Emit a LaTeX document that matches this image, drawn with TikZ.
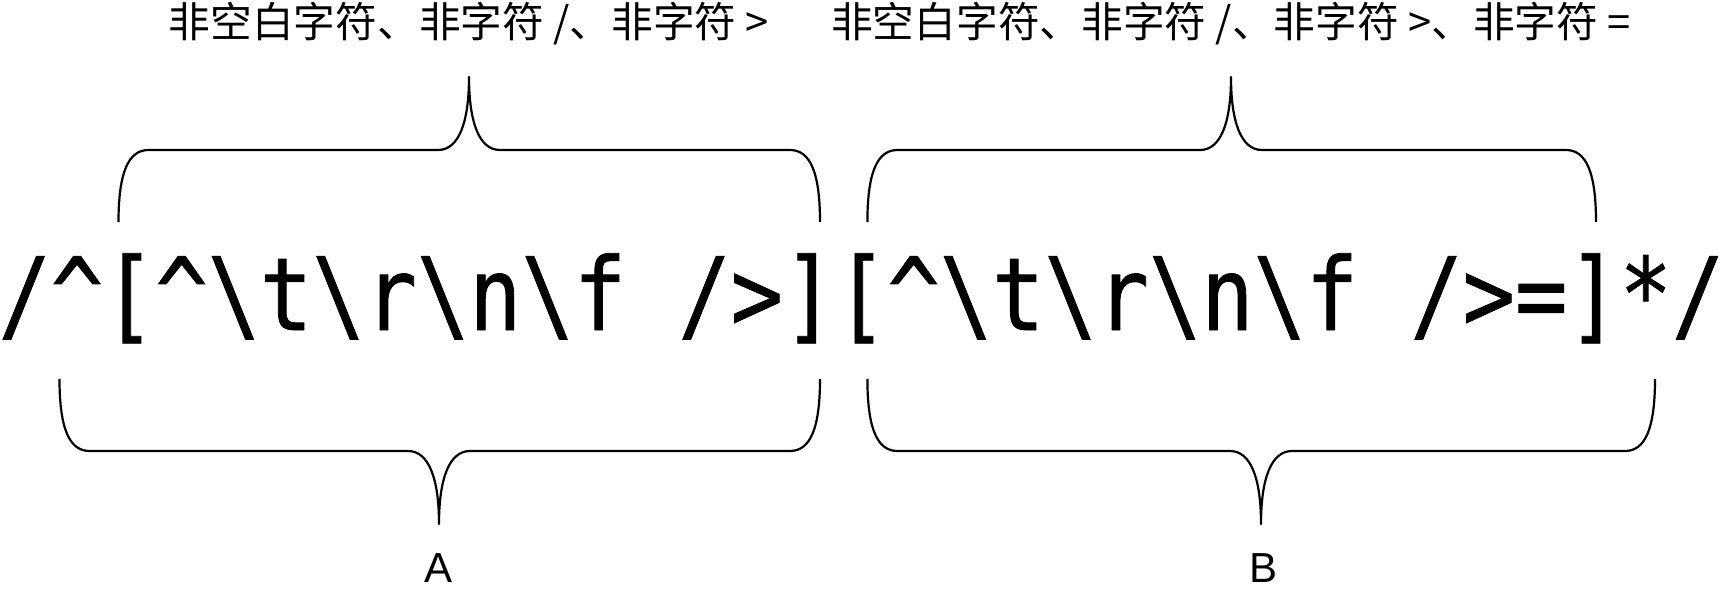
\documentclass[tikz,border=0pt]{standalone}
\usepackage{fontspec}
\usetikzlibrary{positioning,calc}
\setmainfont{Liberation Sans}
\newfontfamily\cjk{Noto Sans CJK SC}
\newfontfamily\rxfont[FakeStretch=0.86,FakeBold=0.8]{DejaVu Sans Mono}
\newcommand{\bsl}{\textbackslash}
\newcommand{\crt}{\textasciicircum}
\tikzset{
  rx/.style={inner sep=0, anchor=base, font=\rxfont\fontsize{101}{110}\selectfont},
  ct/.style={inner sep=0, anchor=base, font=\cjk\fontsize{41.7}{48}\selectfont},
  lb/.style={inner sep=0, anchor=base, font=\fontsize{42}{48}\selectfont},
  br/.style={line width=2.2pt, line join=round}
}
% left x, right x, tip x, end y, middle y, tip y, side (1 up, -1 down)
\newcommand{\curly}[7]{%
  \draw[br] (#1,#4) .. controls +(0,{-50*#7}) and +(-20,0) .. (#1+30,#5) -- (#3-31,#5)
    .. controls +(21,0) and +(0,{45*#7}) .. (#3,#6)
    .. controls +(0,{45*#7}) and +(-21,0) .. (#3+31,#5) -- (#2-30,#5)
    .. controls +(20,0) and +(0,{-50*#7}) .. (#2,#4);}

\begin{document}
\begin{tikzpicture}[x=1pt,y=-1pt]
	\useasboundingbox (0,0) rectangle (1727,589);
	\node[rx] (re) at (861.5,330) {/\crt[\crt\bsl t\bsl r\bsl n\bsl f />][\crt\bsl t\bsl r\bsl n\bsl f />=]*/};
	\node[ct] (ta) at (469,37) {非空白字符、非字符 /、非字符 >};
	\node[ct] (tb) at (1231,37) {非空白字符、非字符 /、非字符 >、非字符 =};
	\curly{118.5}{820}{469}{222}{150}{77}{1}
	\curly{867.4}{1596}{1231}{222}{150}{77}{1}
	\curly{59.5}{820}{439}{379}{451}{524}{-1}
	\curly{867.4}{1655}{1261}{379}{451}{524}{-1}
	\node[lb] (la) at (439,582) {A};
	\node[lb] (lb) at (1263,582) {B};
\end{tikzpicture}
\end{document}
